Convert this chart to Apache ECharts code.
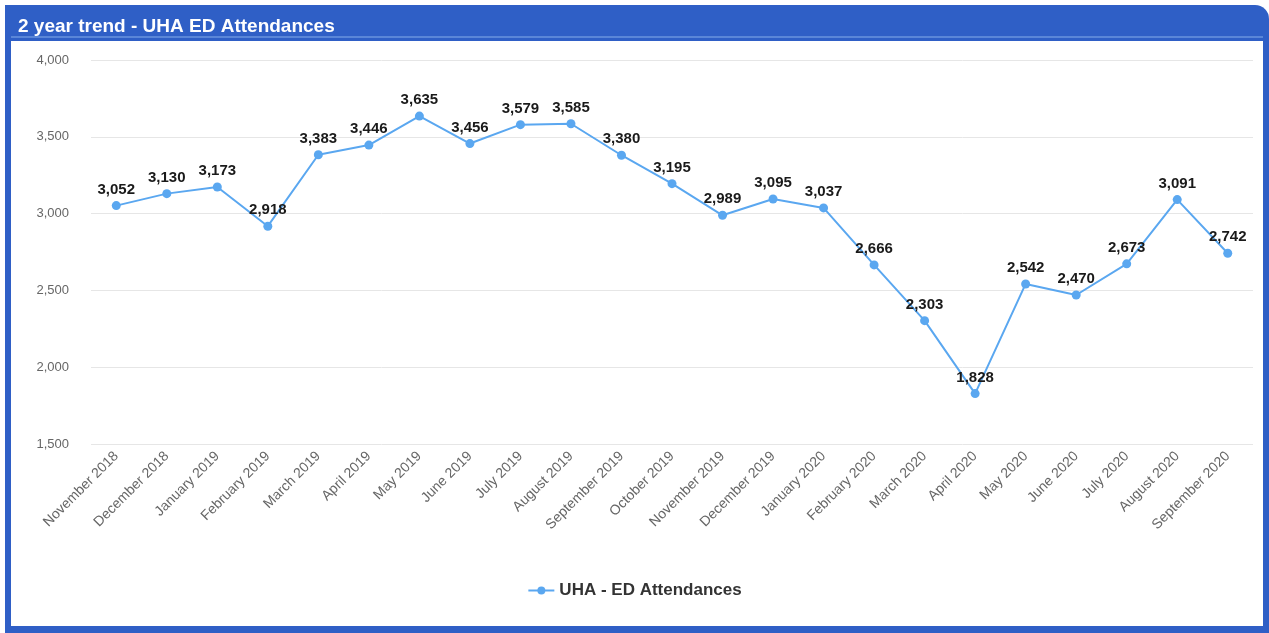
<!DOCTYPE html>
<html>
<head>
<meta charset="utf-8">
<script src="https://cdn.jsdelivr.net/npm/echarts@6/dist/echarts.min.js"></script>
<style>
  html, body { margin: 0; padding: 0; background: #ffffff; }
  #frame {
    position: absolute; left: 5px; top: 5px; width: 1264px; height: 628px;
    background: #2f5fc6; border-top-right-radius: 14px; box-sizing: border-box;
  }
  #inner {
    position: absolute; left: 11px; top: 41px; width: 1252px; height: 585px;
    background: #ffffff;
  }
  #sep { position: absolute; left: 11px; top: 36px; width: 1252px; height: 2px; background: #5a86d8; }
  #chart { position: absolute; left: 0; top: 0; width: 1269px; height: 633px; }
</style>
</head>
<body>
<div id="frame"></div>
<div id="sep"></div>
<div id="inner"></div>
<div id="chart"></div>
<script>
const months = [
  'November 2018', 'December 2018', 'January 2019', 'February 2019', 'March 2019',
  'April 2019', 'May 2019', 'June 2019', 'July 2019', 'August 2019',
  'September 2019', 'October 2019', 'November 2019', 'December 2019', 'January 2020',
  'February 2020', 'March 2020', 'April 2020', 'May 2020', 'June 2020',
  'July 2020', 'August 2020', 'September 2020'
];
const attendances = [
  3052, 3130, 3173, 2918, 3383, 3446, 3635, 3456, 3579, 3585,
  3380, 3195, 2989, 3095, 3037, 2666, 2303, 1828, 2542, 2470,
  2673, 3091, 2742
];
const seriesName = 'UHA - ED Attendances';
const chartTitle = '2 year trend - UHA ED Attendances';

const FONT = 'Liberation Sans, Arial, sans-serif';
const chart = echarts.init(document.getElementById('chart'), null, { renderer: 'canvas' });
const fmt = v => v.toLocaleString('en-US');

chart.setOption({
  backgroundColor: 'transparent',
  animation: false,
  title: {
    text: chartTitle,
    left: 13, top: 12,
    textStyle: { color: '#ffffff', fontFamily: FONT, fontWeight: 'bold', fontSize: 19 }
  },
  legend: {
    bottom: 29, left: 'center',
    data: [seriesName],
    itemWidth: 26, itemHeight: 10,
    textStyle: { color: '#333333', fontWeight: 'bold', fontSize: 17, fontFamily: FONT }
  },
  grid: { left: 91, right: 16, top: 60, bottom: 189, containLabel: false },
  xAxis: {
    type: 'category',
    data: months,
    boundaryGap: true,
    axisLine: { show: false },
    axisTick: { show: false },
    axisLabel: {
      rotate: 45, color: '#666666', fontSize: 14, margin: 10, interval: 0,
      fontFamily: FONT
    }
  },
  yAxis: {
    type: 'value',
    min: 1500, max: 4000, interval: 500,
    axisLine: { show: false },
    axisTick: { show: false },
    splitLine: { lineStyle: { color: '#e6e6e6', width: 1 } },
    axisLabel: {
      color: '#666666', fontSize: 13, margin: 22,
      fontFamily: FONT,
      formatter: v => fmt(v)
    }
  },
  series: [{
    name: seriesName,
    type: 'line',
    data: attendances,
    symbol: 'circle',
    symbolSize: 9,
    itemStyle: { color: '#5aa7f0' },
    lineStyle: { color: '#5aa7f0', width: 2 },
    label: {
      show: true, position: 'top', distance: 4,
      color: '#1a1a1a', fontWeight: 'bold', fontSize: 15,
      fontFamily: FONT,
      formatter: p => fmt(p.value)
    }
  }]
});
</script>
</body>
</html>
